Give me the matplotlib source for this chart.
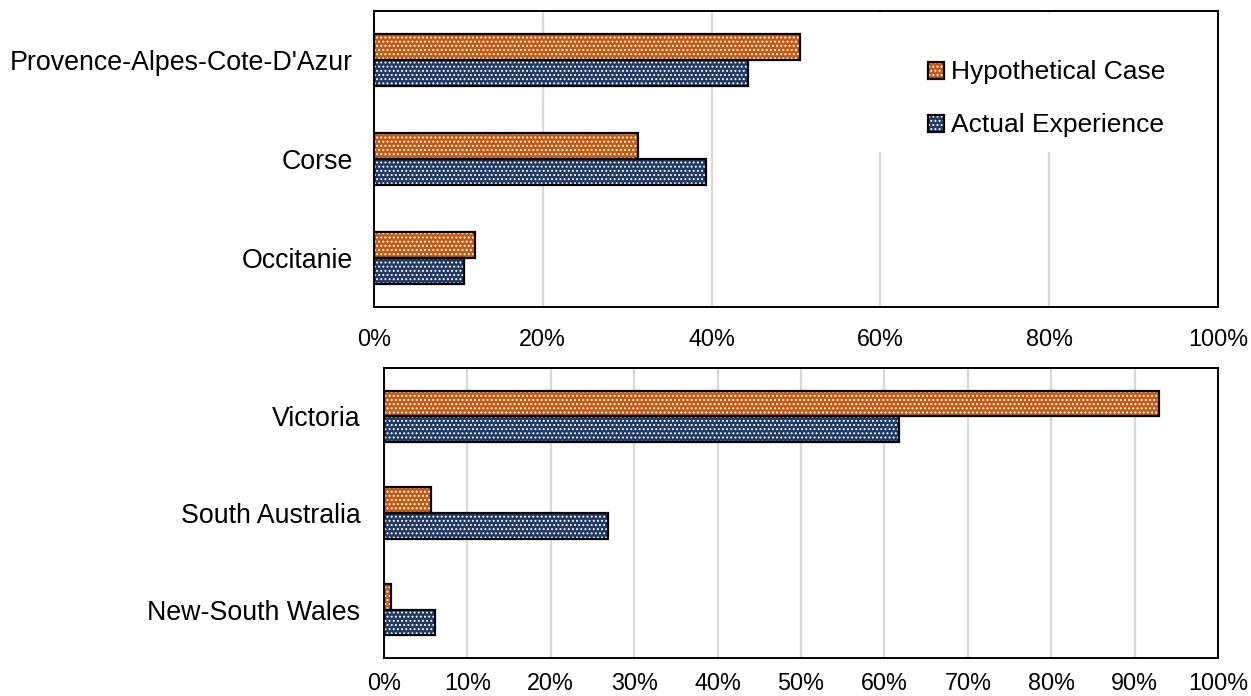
import matplotlib
matplotlib.use("Agg")
import matplotlib.pyplot as plt
from matplotlib.patches import Rectangle
from matplotlib.ticker import PercentFormatter
import numpy as np

plt.rcParams['font.family'] = ['Liberation Sans', 'DejaVu Sans']
plt.rcParams['hatch.linewidth'] = 0.9

# France panel (top to bottom)
fr_regions = ["Provence-Alpes-Cote-D'Azur", "Corse", "Occitanie"]
fr_hypothetical = [50.5, 31.3, 12.0]
fr_actual = [44.3, 39.3, 10.7]
fr_ticks = [0, 20, 40, 60, 80, 100]

# Australia panel (top to bottom)
au_regions = ["Victoria", "South Australia", "New-South Wales"]
au_hypothetical = [92.9, 5.6, 0.8]
au_actual = [61.8, 26.9, 6.1]
au_ticks = [0, 10, 20, 30, 40, 50, 60, 70, 80, 90, 100]

series_labels = ["Hypothetical Case", "Actual Experience"]
ORANGE = "#C55A11"
NAVY = "#1F3864"
GRID = "#D9D9D9"
BAR_H = 0.265

fig = plt.figure(figsize=(12.51, 6.96), dpi=100)
ax_fr = fig.add_axes([374 / 1251, 1 - 307 / 696, (1218 - 374) / 1251, (307 - 11) / 696])
ax_au = fig.add_axes([384 / 1251, 1 - 658 / 696, (1218 - 384) / 1251, (658 - 368) / 696])


def draw_pair(ax, regions, hyp, act):
    y = np.arange(len(regions))[::-1]
    handles = []
    for vals, color, off in ((hyp, ORANGE, BAR_H / 2), (act, NAVY, -BAR_H / 2)):
        # dotted fill: white hatch over the series colour
        fill = ax.barh(y + off, vals, height=BAR_H, color=color,
                       edgecolor="white", hatch="....", linewidth=0, zorder=3)
        # black outline on top
        edge = ax.barh(y + off, vals, height=BAR_H, color="none",
                       edgecolor="black", linewidth=1.6, zorder=4)
        handles.append((fill.patches[0], edge.patches[0]))
    ax.set_yticks(y)
    ax.set_yticklabels(regions)
    ax.set_ylim(-0.5, len(regions) - 0.5)
    ax.set_xlim(0, 100)
    ax.xaxis.set_major_formatter(PercentFormatter(decimals=0))
    ax.grid(axis="x", color=GRID, linewidth=1.6, zorder=0)
    ax.grid(axis="y", visible=False)
    ax.set_axisbelow(True)
    for s in ax.spines.values():
        s.set_linewidth(1.4)
        s.set_color("black")
    ax.tick_params(axis="both", length=0)
    ax.tick_params(axis="y", labelsize=19.3)
    ax.tick_params(axis="x", labelsize=16.8)
    return handles


h_fr = draw_pair(ax_fr, fr_regions, fr_hypothetical, fr_actual)
ax_fr.set_xticks(fr_ticks)
ax_fr.tick_params(axis="x", pad=15)
ax_fr.tick_params(axis="y", pad=15)

draw_pair(ax_au, au_regions, au_hypothetical, au_actual)
ax_au.set_xticks(au_ticks)
ax_au.tick_params(axis="x", pad=10)
ax_au.tick_params(axis="y", pad=17)

# white panel behind the legend hides the gridlines there
ax_fr.add_patch(Rectangle((0.59, 0.524), 0.405, 0.47, transform=ax_fr.transAxes,
                          facecolor="white", edgecolor="none", zorder=1))

leg = ax_fr.legend(h_fr, series_labels, loc="upper left",
                   bbox_to_anchor=(0.656, 0.833), frameon=False, fontsize=19,
                   handlelength=0.62, handleheight=0.62, handletextpad=0.25,
                   labelspacing=1.1, borderpad=0, borderaxespad=0)

fig.savefig("out.png", dpi=100)
